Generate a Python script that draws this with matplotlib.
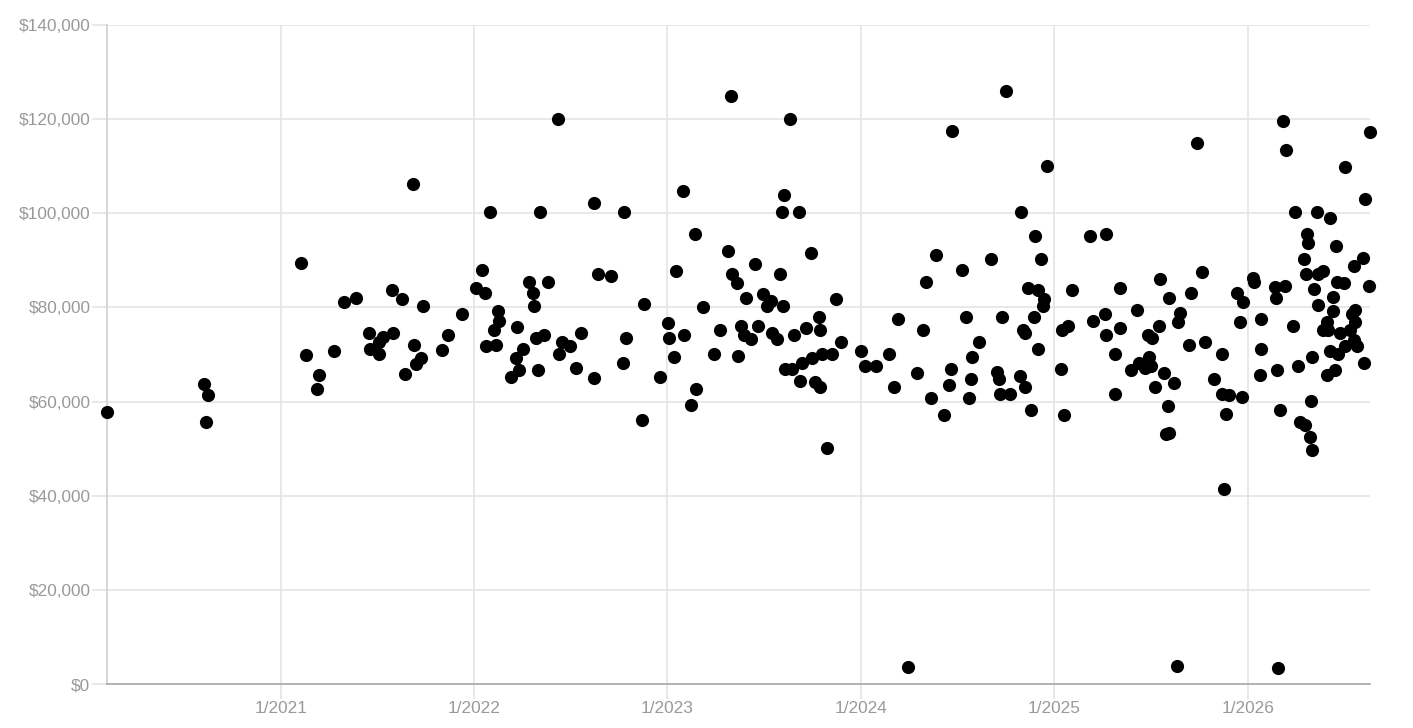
import matplotlib
matplotlib.use('Agg')
import matplotlib.pyplot as plt
import matplotlib.dates as mdates
import matplotlib.ticker as mticker
import pandas as pd

plt.rcParams['font.family'] = ['Liberation Sans', 'DejaVu Sans']

# hire dates and salaries
dates = [
    '2020-02-08', '2020-08-10', '2020-08-16', '2020-08-13',
    '2021-02-09', '2021-02-18', '2021-03-10', '2021-03-15', '2021-04-12', '2021-05-01',
    '2021-05-24', '2021-06-16', '2021-06-19', '2021-07-05', '2021-07-06', '2021-07-13',
    '2021-07-30', '2021-08-02', '2021-08-19', '2021-08-24', '2021-09-08', '2021-09-09',
    '2021-09-13', '2021-09-23', '2021-09-27', '2021-11-01', '2021-11-13', '2021-12-10',
    '2022-01-04', '2022-01-17', '2022-01-22', '2022-01-23', '2022-01-31', '2022-02-07',
    '2022-02-11', '2022-02-16', '2022-02-18', '2022-03-12', '2022-03-22', '2022-03-24',
    '2022-03-27', '2022-04-03', '2022-04-14', '2022-04-23', '2022-04-24', '2022-04-28',
    '2022-05-01', '2022-05-06', '2022-05-13', '2022-05-21', '2022-06-09', '2022-06-10',
    '2022-06-16', '2022-07-01', '2022-07-13', '2022-07-22', '2022-08-15', '2022-08-16',
    '2022-08-23', '2022-09-16', '2022-10-10', '2022-10-12', '2022-10-15', '2022-11-15',
    '2022-11-18', '2022-12-18',
    '2023-01-02', '2023-01-05', '2023-01-13', '2023-01-18', '2023-01-31', '2023-02-02',
    '2023-02-15', '2023-02-23', '2023-02-24', '2023-03-09', '2023-03-31', '2023-04-11',
    '2023-04-26', '2023-05-01', '2023-05-04', '2023-05-13', '2023-05-15', '2023-05-20',
    '2023-05-26', '2023-05-29', '2023-06-09', '2023-06-15', '2023-06-22', '2023-06-30',
    '2023-07-09', '2023-07-16', '2023-07-17', '2023-07-27', '2023-08-01', '2023-08-05',
    '2023-08-08', '2023-08-10', '2023-08-11', '2023-08-21', '2023-08-25', '2023-08-29',
    '2023-09-07', '2023-09-09', '2023-09-13', '2023-09-20', '2023-09-29', '2023-10-02',
    '2023-10-07', '2023-10-15', '2023-10-16', '2023-10-17', '2023-10-21', '2023-10-30',
    '2023-11-09', '2023-11-16', '2023-11-26',
    '2024-01-01', '2024-01-10', '2024-01-30', '2024-02-23', '2024-03-04', '2024-03-11',
    '2024-03-30', '2024-04-17', '2024-04-28', '2024-05-04', '2024-05-13', '2024-05-23',
    '2024-06-06', '2024-06-16', '2024-06-20', '2024-06-21', '2024-07-10', '2024-07-18',
    '2024-07-24', '2024-07-27', '2024-07-30', '2024-08-12', '2024-09-04', '2024-09-15',
    '2024-09-18', '2024-09-20', '2024-09-24', '2024-10-02', '2024-10-10', '2024-10-29',
    '2024-10-30', '2024-11-03', '2024-11-07', '2024-11-06', '2024-11-12', '2024-11-18',
    '2024-11-23', '2024-11-26', '2024-12-01', '2024-12-02', '2024-12-07', '2024-12-10',
    '2024-12-12', '2024-12-18',
    '2025-01-15', '2025-01-14', '2025-01-20', '2025-01-26', '2025-02-04', '2025-03-09',
    '2025-03-14', '2025-04-06', '2025-04-08', '2025-04-09', '2025-04-25', '2025-04-26',
    '2025-05-04', '2025-05-05', '2025-05-25', '2025-06-06', '2025-06-10', '2025-06-21',
    '2025-06-27', '2025-06-28', '2025-07-03', '2025-07-04', '2025-07-10', '2025-07-18',
    '2025-07-20', '2025-07-27', '2025-07-30', '2025-08-04', '2025-08-05', '2025-08-06',
    '2025-08-15', '2025-08-21', '2025-08-23', '2025-08-26', '2025-09-12', '2025-09-16',
    '2025-09-27', '2025-10-07', '2025-10-12', '2025-10-29', '2025-11-14', '2025-11-13',
    '2025-11-18', '2025-11-21', '2025-11-27', '2025-12-12', '2025-12-17', '2025-12-22',
    '2025-12-23',
    '2026-01-11', '2026-01-13', '2026-01-24', '2026-01-26', '2026-01-27', '2026-02-22',
    '2026-02-23', '2026-02-26', '2026-02-27', '2026-03-03', '2026-03-09', '2026-03-12',
    '2026-03-14', '2026-03-28', '2026-03-31', '2026-04-06', '2026-04-09', '2026-04-17',
    '2026-04-20', '2026-04-22', '2026-04-23', '2026-04-24', '2026-04-28', '2026-05-01',
    '2026-05-02', '2026-05-03', '2026-05-06', '2026-05-12', '2026-05-13', '2026-05-14',
    '2026-05-23', '2026-05-24', '2026-05-31', '2026-06-01', '2026-05-30', '2026-06-06',
    '2026-06-05', '2026-06-11', '2026-06-12', '2026-06-14', '2026-06-16', '2026-06-18',
    '2026-06-20', '2026-06-25', '2026-07-02', '2026-07-03', '2026-07-04', '2026-07-13',
    '2026-07-17', '2026-07-20', '2026-07-23', '2026-07-22', '2026-07-21', '2026-07-26',
    '2026-08-06', '2026-08-08', '2026-08-11', '2026-08-18', '2026-08-20',
]

salaries = [
    57800, 63700, 61500, 55700,
    89500, 69800, 62600, 65700, 70700, 81100,
    82100, 74500, 71100, 70100, 72700, 73700,
    83600, 74500, 81700, 65800, 106200, 72000,
    68000, 69300, 80200, 71000, 74200, 78600,
    84200, 88000, 83000, 71900, 100200, 75200,
    72000, 79200, 77100, 65200, 69200, 75800,
    66700, 71100, 85300, 83100, 80200, 73400,
    66700, 100200, 74100, 85300, 120000, 70100,
    72700, 71900, 67100, 74500, 102100, 65100,
    87100, 86700, 68300, 100200, 73600, 56000,
    80800, 65200,
    76700, 73600, 69500, 87700, 104700, 74200,
    59200, 95700, 62600, 80100, 70100, 75100,
    92000, 125000, 87200, 85200, 69600, 76100,
    74100, 81900, 73200, 89300, 76000, 82800,
    80400, 81400, 74600, 73300, 87000, 100200,
    80300, 103900, 66900, 120000, 66900, 74100,
    100200, 64400, 68200, 75700, 91500, 69200,
    64100, 78000, 75100, 63200, 70100, 50100,
    70100, 81700, 72600,
    70700, 67600, 67600, 70100, 63200, 77600,
    3600, 66000, 75100, 85500, 60700, 91100,
    57200, 63500, 67000, 117500, 88000, 78000,
    60700, 64700, 69500, 72600, 90200, 66200,
    64900, 61700, 78000, 126000, 61700, 65400,
    100300, 75100, 74500, 63200, 84200, 58200,
    78000, 95200, 71100, 83700, 90200, 80200,
    81800, 110000,
    75200, 67000, 57200, 76100, 83600, 95200,
    77100, 78500, 74100, 95500, 70100, 61700,
    84200, 75700, 66700, 79500, 68300, 67100,
    74100, 69400, 67600, 73400, 63200, 76100,
    86000, 66000, 53200, 59100, 53400, 82000,
    64000, 3900, 76800, 78800, 72000, 83000,
    115000, 87500, 72700, 64900, 70100, 61700,
    41500, 57300, 61300, 83100, 77000, 61000,
    81100,
    86200, 85300, 65700, 77600, 71100, 84400,
    82100, 66700, 3500, 58200, 119700, 84600,
    113400, 76100, 100200, 67600, 55700, 90200,
    55100, 87100, 95700, 93600, 52500, 60100,
    49700, 69500, 83900, 100200, 87200, 80500,
    87700, 75200, 77000, 75200, 65700, 99000,
    70700, 82200, 79200, 66700, 93000, 85400,
    70100, 74600, 85100, 109900, 71700, 75200,
    78500, 88700, 79500, 77000, 73100, 71900,
    90600, 68300, 103100, 84600, 117200,
]

x = pd.to_datetime(dates)

fig = plt.figure(figsize=(14.13, 7.28), dpi=100)
ax = fig.add_axes([107 / 1413, 1 - 684 / 728, (1370 - 107) / 1413, (684 - 25) / 728])

ax.scatter(x, salaries, s=90, color='black', linewidths=0, zorder=3, clip_on=False)

ax.set_xlim(x.min(), x.max())
ax.set_ylim(0, 140000)

ax.yaxis.set_major_locator(mticker.MultipleLocator(20000))
ax.yaxis.set_major_formatter(mticker.FuncFormatter(lambda v, p: '${:,.0f}'.format(v)))
ax.xaxis.set_major_locator(mdates.YearLocator())
ax.xaxis.set_major_formatter(mticker.FuncFormatter(
    lambda v, p: '{}/{}'.format(mdates.num2date(v).month, mdates.num2date(v).year)))

grid_col = '#e4e4e4'
ax.grid(True, color=grid_col, linewidth=1.2)
ax.set_axisbelow(True)
for side in ['top', 'right']:
    ax.spines[side].set_visible(False)
ax.spines['left'].set_color('#cfcfcf')
ax.spines['bottom'].set_color('#a8a8a8')
ax.spines['left'].set_linewidth(1.2)
ax.spines['bottom'].set_linewidth(1.2)

ax.tick_params(axis='both', length=10.5, width=1.2, color=grid_col,
               labelcolor='#999999', labelsize=12.4)
ax.tick_params(axis='y', pad=1.5)
ax.tick_params(axis='x', pad=2)

plt.savefig('out.png', dpi=100)
